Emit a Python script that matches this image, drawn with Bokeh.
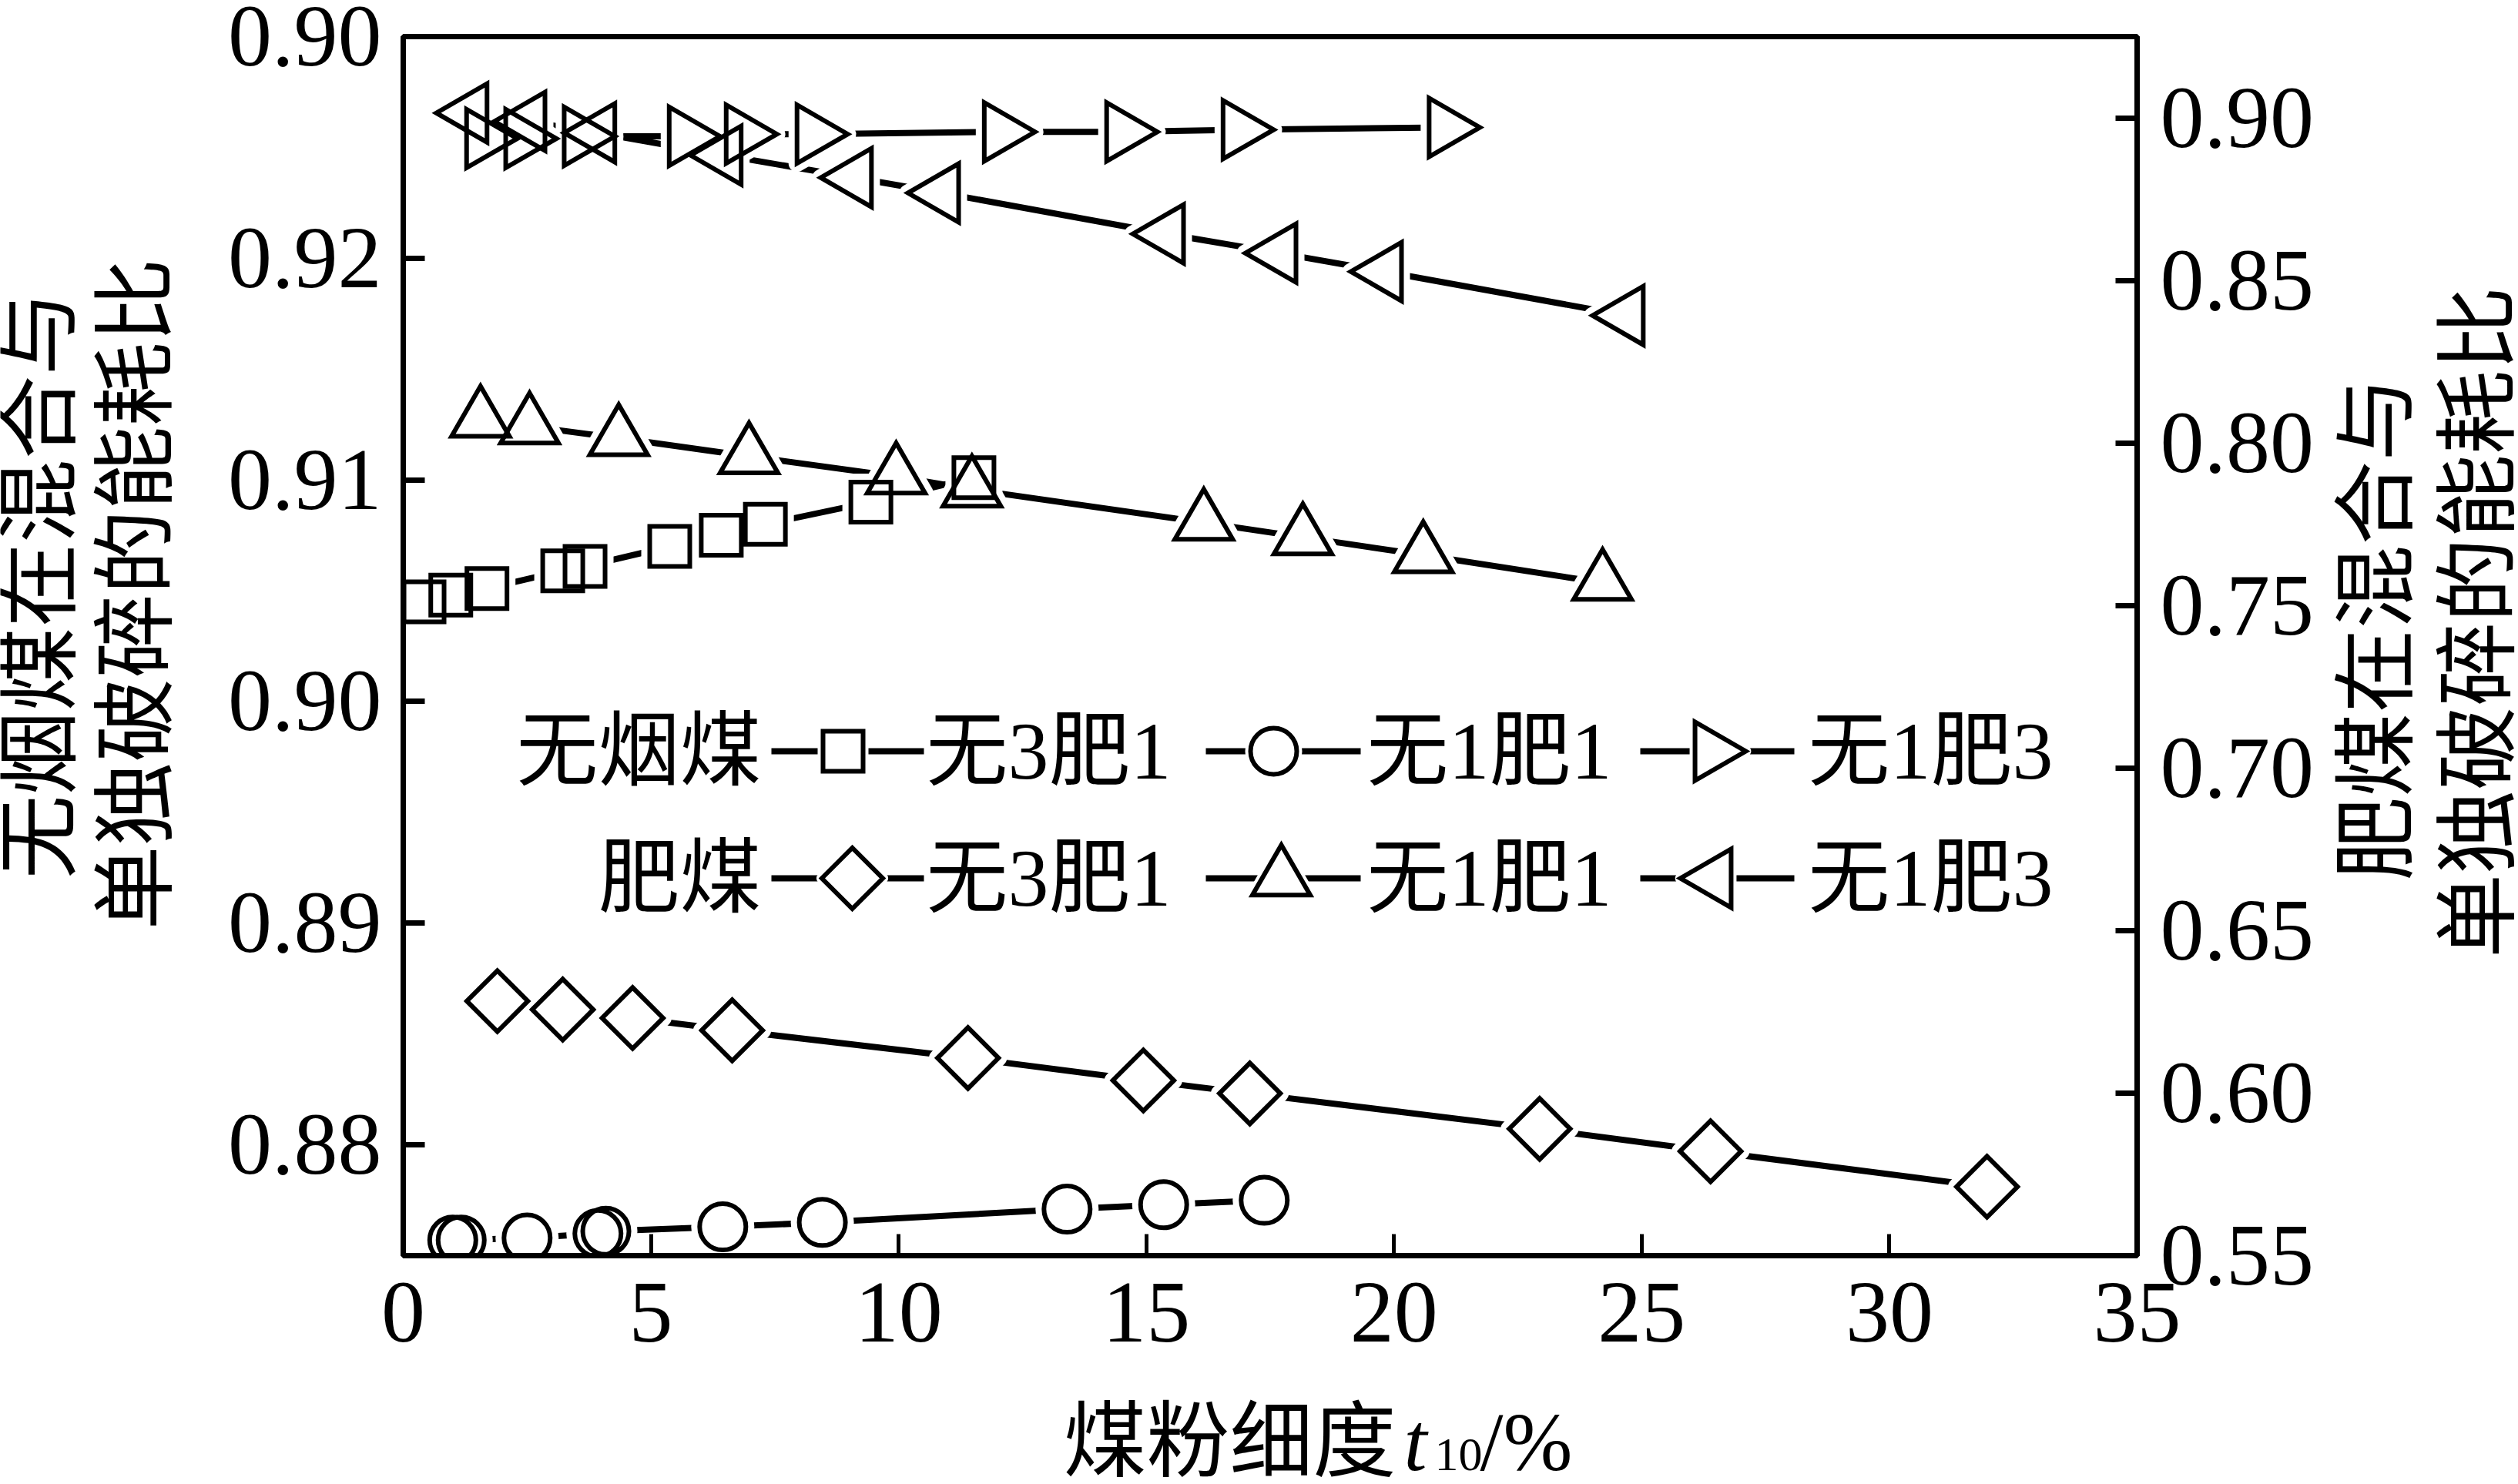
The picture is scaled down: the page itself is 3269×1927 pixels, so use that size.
import math
from bokeh.plotting import figure
from bokeh.models import Range1d, LinearAxis, FixedTicker, Label, PrintfTickFormatter
from bokeh.layouts import column, row
from bokeh.core.properties import value
from bokeh.embed import file_html
from bokeh.resources import INLINE

# ---------------- data ----------------
# 无烟煤 (left axis)
a31_x = [0.42, 0.96, 1.69, 3.22, 3.67, 5.38, 6.42, 7.31, 9.44, 11.52]
a31_y = [0.9045, 0.9048, 0.9051, 0.9059, 0.9061, 0.9070, 0.9075, 0.9080, 0.9090, 0.9101]
a11_x = [1.00, 1.17, 2.50, 3.93, 4.09, 6.45, 8.46, 13.40, 15.35, 17.38]
a11_y = [0.8757, 0.8757, 0.8758, 0.8760, 0.8761, 0.8763, 0.8765, 0.8771, 0.8773, 0.8775]
a13_x = [1.62, 2.41, 3.59, 5.71, 6.86, 8.29, 12.07, 14.54, 16.89, 21.05]
a13_y = [0.9254, 0.9254, 0.9255, 0.9255, 0.9256, 0.9256, 0.9257, 0.9257, 0.9258, 0.9259]
# 肥煤 (right axis)
f31_x = [1.90, 3.22, 4.63, 6.64, 11.40, 14.94, 17.09, 22.94, 26.39, 31.97]
f31_y = [0.6283, 0.6257, 0.6231, 0.6193, 0.6108, 0.6039, 0.5999, 0.5890, 0.5821, 0.5712]
f11_x = [1.56, 2.55, 4.35, 6.98, 9.95, 11.48, 16.16, 18.16, 20.59, 24.21]
f11_y = [0.8072, 0.8051, 0.8015, 0.7959, 0.7897, 0.7857, 0.7755, 0.7710, 0.7655, 0.7570]
f13_x = [1.35, 2.52, 3.93, 6.48, 9.11, 10.87, 15.41, 17.68, 19.81, 24.69]
f13_y = [0.9015, 0.8989, 0.8954, 0.8885, 0.8816, 0.8769, 0.8643, 0.8584, 0.8527, 0.8392]

x_ticks = [0, 5, 10, 15, 20, 25, 30, 35]
left_ticks = [0.88, 0.89, 0.90, 0.91, 0.92, 0.93]
left_tick_overrides = {0.93: "0.90"}
right_ticks = [0.55, 0.60, 0.65, 0.70, 0.75, 0.80, 0.85, 0.90]

row_labels = ["无烟煤", "肥煤"]
item_labels = ["无3肥1", "无1肥1", "无1肥3"]
left_title = ["无烟煤在混合与", "单独破碎的能耗比"]
right_title = ["肥煤在混合与", "单独破碎的能耗比"]
x_title = ["煤粉细度", "t", "10", "/%"]

# ---------------- layout (canvas pixels) ----------------
W, H = 3269, 1927
P_H = 1815                 # height of the main row, the rest is the x-title strip
LS_W = 250                 # left title strip width
RS_X0 = 3020               # right title strip starts here
FL, FR, FT, FB = 523, 2774, 47, 1630   # plot frame on the canvas
XR = (0, 35)
YL = (0.875, 0.93)
YR = (0.55, 0.925)

SERIF = "Liberation Serif"
MIX = "Liberation Serif, Noto Sans CJK SC"

P_W = RS_X0 - LS_W
p = figure(width=P_W, height=P_H, output_backend="svg", toolbar_location=None,
           title=None, x_range=Range1d(*XR), y_range=Range1d(*YL),
           min_border_left=FL - LS_W, min_border_right=RS_X0 - FR,
           min_border_top=FT, min_border_bottom=P_H - FB,
           background_fill_color="white", border_fill_color="white")
p.extra_y_ranges = {"right": Range1d(*YR)}
p.xgrid.visible = False
p.ygrid.visible = False
p.outline_line_color = "black"
p.outline_line_width = 7


def style_axis(ax, tick_w, standoff):
    ax.axis_line_color = "black"
    ax.axis_line_width = 7
    ax.major_tick_in = 28
    ax.major_tick_out = 0
    ax.major_tick_line_width = tick_w
    ax.major_tick_line_color = "black"
    ax.minor_tick_in = 0
    ax.minor_tick_out = 0
    ax.major_label_text_font = SERIF
    ax.major_label_text_font_size = "114px"
    ax.major_label_text_color = "black"
    ax.major_label_standoff = standoff


xa = p.xaxis[0]
xa.ticker = FixedTicker(ticks=x_ticks)
xa.formatter = PrintfTickFormatter(format="%d")
style_axis(xa, 5, 36)

ya = p.yaxis[0]
ya.ticker = FixedTicker(ticks=left_ticks)
ya.formatter = PrintfTickFormatter(format="%.2f")
ya.major_label_overrides = left_tick_overrides
style_axis(ya, 7, 28)

yr_axis = LinearAxis(y_range_name="right",
                     ticker=FixedTicker(ticks=right_ticks),
                     formatter=PrintfTickFormatter(format="%.2f"))
style_axis(yr_axis, 7, 30)
p.add_layout(yr_axis, "right")

# ---------------- series ----------------
LINE_W = 8
MARK_W = 6
GAP = 8

series = [
    (a31_x, a31_y, "square", 52, 0.0, "default"),
    (a11_x, a11_y, "circle", 60, 0.0, "default"),
    (a13_x, a13_y, "triangle", 76, -math.pi / 2, "default"),
    (f31_x, f31_y, "square", 56, math.pi / 4, "right"),
    (f11_x, f11_y, "triangle", 75, 0.0, "right"),
    (f13_x, f13_y, "triangle", 76, math.pi / 2, "right"),
]

for xs, ys, mk, sz, ang, yrn in series:
    p.line(xs, ys, line_width=LINE_W, line_color="black", y_range_name=yrn)

for xs, ys, mk, sz, ang, yrn in series:
    p.scatter(xs, ys, marker=mk, size=sz, angle=ang, fill_color="white",
              line_color="white", line_width=MARK_W + 2 * GAP, line_join="round",
              y_range_name=yrn)

for xs, ys, mk, sz, ang, yrn in series:
    p.scatter(xs, ys, marker=mk, size=sz, angle=ang, fill_alpha=0,
              line_color="black", line_width=MARK_W, line_join="miter",
              y_range_name=yrn)

# ---------------- legend ----------------
def px2x(px):
    return XR[0] + (px - FL) / (FR - FL) * (XR[1] - XR[0])


def py2y(py):
    return YL[1] - (py - FT) / (FB - FT) * (YL[1] - YL[0])


LEG_ROW_PY = [975, 1140]
LEG_LINE_PX = [(1001, 1199), (1565, 1766), (2129, 2329)]
LEG_MARK_PX = [[1094, 1653, 2222], [1106, 1663, 2225]]
LEG_LABEL_PX = [1202, 1774, 2347]
ROW_LABEL_RIGHT_PX = 988

leg_markers = [series[0:3], series[3:6]]
for r in range(2):
    y = py2y(LEG_ROW_PY[r])
    p.segment(x0=[px2x(a) for a, b in LEG_LINE_PX], y0=[y] * 3,
              x1=[px2x(b) for a, b in LEG_LINE_PX], y1=[y] * 3,
              line_width=LINE_W, line_color="black")
    for c in range(3):
        _, _, mk, sz, ang, _ = leg_markers[r][c]
        mx = [px2x(LEG_MARK_PX[r][c])]
        p.scatter(mx, [y], marker=mk, size=sz, angle=ang, fill_color="white",
                  line_color="white", line_width=MARK_W + 8, line_join="round")
        p.scatter(mx, [y], marker=mk, size=sz, angle=ang, fill_alpha=0,
                  line_color="black", line_width=MARK_W, line_join="miter")
    p.add_layout(Label(x=ROW_LABEL_RIGHT_PX - FL, y=FB - LEG_ROW_PY[r],
                       x_units="screen", y_units="screen", text=row_labels[r],
                       text_font=MIX, text_font_size="106px", text_color="black",
                       text_align="right", text_baseline="middle"))
    for c in range(3):
        p.add_layout(Label(x=LEG_LABEL_PX[c] - FL, y=FB - LEG_ROW_PY[r],
                           x_units="screen", y_units="screen", text=item_labels[c],
                           text_font=MIX, text_font_size="106px", text_color="black",
                           text_align="left", text_baseline="middle"))


# ---------------- title strips ----------------
def strip(w, h):
    f = figure(width=w, height=h, output_backend="svg", toolbar_location=None,
               title=None, x_range=Range1d(0, w), y_range=Range1d(0, h),
               x_axis_type=None, y_axis_type=None,
               min_border=0, min_border_left=0, min_border_right=0,
               min_border_top=0, min_border_bottom=0,
               background_fill_color="white", border_fill_color="white")
    f.outline_line_color = None
    f.xgrid.visible = False
    f.ygrid.visible = False
    return f


TITLE_PX = "109px"

# rotated titles, anchored at their centres (canvas pixels)
ls = strip(LS_W, P_H)
ls.text(x=[52, 177], y=[P_H - 817, P_H - 830], text=left_title,
        angle=math.pi / 2, text_font=value(MIX), text_font_size=value(TITLE_PX),
        text_color="black", text_align="center", text_baseline="middle")

rs = strip(W - RS_X0, P_H)
rs.text(x=[3086 - RS_X0, 3218 - RS_X0], y=[P_H - 882, P_H - 872], text=right_title,
        angle=math.pi / 2, text_font=value(MIX), text_font_size=value(TITLE_PX),
        text_color="black", text_align="center", text_baseline="middle")

S_H = H - P_H
s = strip(W, S_H)
XT_BASE = 1872          # canvas baseline of the x title
SUB_BASE = 1888
s.text(x=[1380], y=[H - XT_BASE], text=[x_title[0]], text_font=value(MIX),
       text_font_size=value("108px"), text_color="black",
       text_align="left", text_baseline="alphabetic")
s.text(x=[1822], y=[H - XT_BASE], text=[x_title[1]], text_font=value(SERIF),
       text_font_style="italic", text_font_size=value("108px"), text_color="black",
       text_align="left", text_baseline="alphabetic")
s.text(x=[1862], y=[H - SUB_BASE], text=[x_title[2]], text_font=value(SERIF),
       text_font_size=value("62px"), text_color="black",
       text_align="left", text_baseline="alphabetic")
s.text(x=[1921], y=[H - XT_BASE], text=[x_title[3]], text_font=value(SERIF),
       text_font_size=value("108px"), text_color="black",
       text_align="left", text_baseline="alphabetic")

layout = column(row(ls, p, rs, spacing=0), s, spacing=0)
open("out.html", "w").write(file_html(layout, INLINE))
